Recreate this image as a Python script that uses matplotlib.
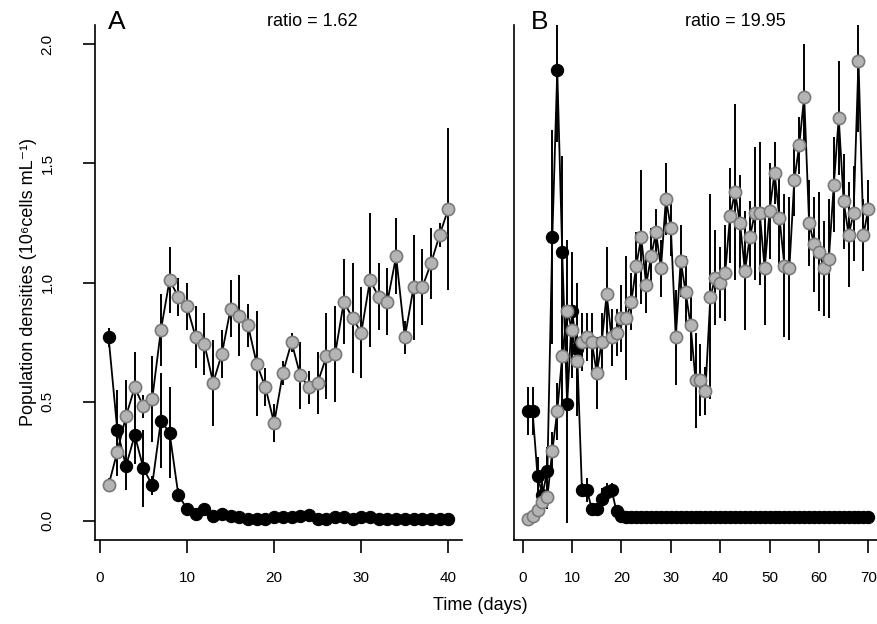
import numpy as np
import matplotlib
matplotlib.use("Agg")
import matplotlib.pyplot as plt

plt.rcParams['font.family'] = ['Liberation Sans', 'DejaVu Sans']

# ---------------- data ----------------
days_A = np.arange(1, 41)
gray_A = [0.15, 0.29, 0.44, 0.56, 0.48, 0.51, 0.80, 1.01, 0.94, 0.90,
          0.77, 0.74, 0.58, 0.70, 0.89, 0.86, 0.82, 0.66, 0.56, 0.41,
          0.62, 0.75, 0.61, 0.56, 0.58, 0.69, 0.70, 0.92, 0.85, 0.79,
          1.01, 0.94, 0.92, 1.11, 0.77, 0.98, 0.98, 1.08, 1.20, 1.31]
gray_A_err = [0.03, 0.10, 0.15, 0.15, 0.05, 0.18, 0.15, 0.14, 0.08, 0.10,
              0.13, 0.13, 0.18, 0.10, 0.12, 0.17, 0.09, 0.22, 0.08, 0.08,
              0.05, 0.04, 0.14, 0.07, 0.13, 0.18, 0.20, 0.18, 0.23, 0.19,
              0.28, 0.14, 0.14, 0.16, 0.07, 0.22, 0.16, 0.15, 0.05, 0.34]
black_A = [0.77, 0.38, 0.23, 0.36, 0.22, 0.15, 0.42, 0.37, 0.11, 0.05,
           0.03, 0.05, 0.02, 0.03, 0.02, 0.015, 0.01, 0.01, 0.01, 0.015,
           0.015, 0.015, 0.02, 0.025, 0.01, 0.01, 0.015, 0.015, 0.01, 0.015,
           0.015, 0.01, 0.01, 0.01, 0.01, 0.01, 0.01, 0.01, 0.01, 0.01]
black_A_err = [0.04, 0.17, 0.10, 0.12, 0.16, 0.04, 0.20, 0.19, 0.03, 0.02,
               0.01, 0.01, 0.01, 0.01, 0.01, 0.01, 0.01, 0.01, 0.01, 0.01,
               0.01, 0.01, 0.01, 0.01, 0.01, 0.01, 0.01, 0.01, 0.01, 0.01,
               0.01, 0.01, 0.01, 0.01, 0.01, 0.01, 0.01, 0.01, 0.01, 0.01]

days_B = np.arange(1, 71)
gray_B = [0.01, 0.02, 0.045, 0.08, 0.10, 0.295, 0.46, 0.69, 0.88, 0.80,
          0.67, 0.75, 0.77, 0.75, 0.62, 0.75, 0.95, 0.77, 0.79, 0.85,
          0.85, 0.92, 1.07, 1.19, 0.99, 1.11, 1.21, 1.06, 1.35, 1.23,
          0.77, 1.09, 0.96, 0.82, 0.59, 0.59, 0.545, 0.94, 1.02, 1.00,
          1.04, 1.28, 1.38, 1.25, 1.05, 1.19, 1.29, 1.29, 1.06, 1.30,
          1.46, 1.27, 1.07, 1.06, 1.43, 1.575, 1.78, 1.25, 1.16, 1.13,
          1.06, 1.10, 1.41, 1.69, 1.34, 1.20, 1.29, 1.93, 1.20, 1.31]
gray_B_err = [0.01, 0.01, 0.02, 0.04, 0.05, 0.08, 0.12, 0.20, 0.30, 0.20,
              0.15, 0.12, 0.10, 0.12, 0.15, 0.12, 0.20, 0.12, 0.10, 0.14,
              0.26, 0.12, 0.14, 0.28, 0.12, 0.12, 0.10, 0.12, 0.15, 0.12,
              0.20, 0.15, 0.15, 0.15, 0.20, 0.15, 0.10, 0.43, 0.20, 0.15,
              0.20, 0.20, 0.37, 0.20, 0.25, 0.15, 0.28, 0.30, 0.24, 0.20,
              0.13, 0.20, 0.30, 0.30, 0.15, 0.12, 0.22, 0.18, 0.20, 0.25,
              0.20, 0.25, 0.20, 0.24, 0.20, 0.22, 0.20, 0.30, 0.15, 0.12]
black_B = [0.46, 0.46, 0.19, 0.11, 0.21, 1.19, 1.89, 1.13, 0.49, 0.88,
           0.72, 0.13, 0.13, 0.05, 0.05, 0.09, 0.12, 0.13, 0.04, 0.02] + [0.015] * 50
black_B_err = [0.10, 0.10, 0.08, 0.06, 0.10, 0.45, 0.30, 0.40, 0.50, 0.25,
               0.28, 0.03, 0.05, 0.02, 0.02, 0.05, 0.04, 0.03, 0.02, 0.01] + [0.005] * 50

yticks = [0.0, 0.5, 1.0, 1.5, 2.0]
ytick_labels = ["0.0", "0.5", "1.0", "1.5", "2.0"]
xticks_A = [0, 10, 20, 30, 40]
xticks_B = [0, 10, 20, 30, 40, 50, 60, 70]

# ---------------- figure ----------------
W, H = 878, 624
fig = plt.figure(figsize=(W / 100, H / 100), dpi=100)

def fx(px):
    return px / W

def fy(py):
    return 1 - py / H

axA = fig.add_axes([fx(95), fy(540), fx(462) - fx(95), fy(25) - fy(540)])
axB = fig.add_axes([fx(514), fy(540), fx(882) - fx(514), fy(25) - fy(540)])

GRAY_FILL = '#b4b4b4'
GRAY_EDGE = '#7a7a7a'

def draw(ax, days, g, ge, b, be):
    ax.errorbar(days, b, yerr=be, fmt='none', ecolor='black', elinewidth=1.4, capsize=0, zorder=2)
    ax.errorbar(days, g, yerr=ge, fmt='none', ecolor='black', elinewidth=1.4, capsize=0, zorder=2)
    ax.plot(days, b, color='black', lw=1.3, zorder=3)
    ax.plot(days, g, color='black', lw=1.3, zorder=3)
    ax.plot(days, b, 'o', color='black', mfc='black', mec='black', ms=8.8, mew=0.8, zorder=4)
    ax.plot(days, g, 'o', color='black', mfc=GRAY_FILL, mec=GRAY_EDGE, ms=8.8, mew=1.2, zorder=5)
    ax.set_ylim(-0.08, 2.08)
    for s in ['top', 'right']:
        ax.spines[s].set_visible(False)
    for s in ['left', 'bottom']:
        ax.spines[s].set_linewidth(1.2)
    ax.tick_params(axis='x', direction='out', length=9, width=1.2, pad=13, labelsize=11)

draw(axA, days_A, gray_A, gray_A_err, black_A, black_A_err)
draw(axB, days_B, gray_B, gray_B_err, black_B, black_B_err)

axA.set_xlim(-0.56, 41.56)
axA.set_xticks(xticks_A)
axA.set_xticklabels([str(t) for t in xticks_A])
axA.set_yticks(yticks)
axA.set_yticklabels(ytick_labels, rotation=90, va='center')
axA.tick_params(axis='y', direction='out', length=9, width=1.2, pad=20, labelsize=11)
axA.set_ylabel("Population densities (10\u2076cells mL\u207b\u00b9)", fontsize=13, labelpad=3)

axB.set_xlim(-1.76, 72.76)
axB.set_xticks(xticks_B)
axB.set_xticklabels([str(t) for t in xticks_B])
axB.set_yticks([])

fig.text(fx(117), fy(22), "A", fontsize=19, ha='center', va='center')
fig.text(fx(312), fy(22), "ratio = 1.62", fontsize=13, ha='center', va='center')
fig.text(fx(540), fy(22), "B", fontsize=19, ha='center', va='center')
fig.text(fx(735), fy(22), "ratio = 19.95", fontsize=13, ha='center', va='center')
fig.text(fx(480), fy(605), "Time (days)", fontsize=13, ha='center', va='center')

fig.savefig("out.png", dpi=100)
